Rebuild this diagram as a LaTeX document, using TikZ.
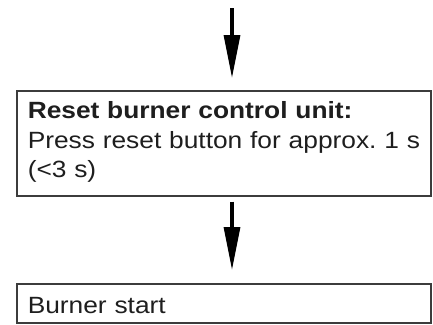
\documentclass[tikz,border=0pt]{standalone}
\usepackage{fontspec}
\setmainfont{Liberation Sans}[FakeStretch=1.12]
\usepackage{tikz}
\usetikzlibrary{arrows.meta,positioning,calc}
\definecolor{boxgray}{RGB}{60, 60, 60}
\definecolor{textgray}{RGB}{30, 30, 30}
\frenchspacing

\begin{document}
\begin{tikzpicture}[x=1pt, y=1pt,
    every node/.style={font=\fontsize{23.5}{29.5}\selectfont, text=textgray},
    stepbox/.style={draw=boxgray, line width=1.5pt, anchor=north west, inner xsep=11pt, inner ysep=0pt, text width=392pt, align=left},
    flowarrow/.style={line width=3.3pt, -{Triangle[length=43pt, width=16pt]}}]
    \useasboundingbox (0, 0) rectangle (433, -324);

    \coordinate (top) at (232, -8);
    \node[stepbox, text height=28pt, text depth=77pt] (reset) at (16, -90)
        {\mbox{\textbf{Reset burner control unit:}}\\\mbox{Press reset button for approx. 1 s}\\\mbox{(<3 s)}};
    \node[stepbox, text height=30pt, text depth=9pt] (start) at (16, -283) {Burner start};

    \draw[flowarrow, shorten >=12pt] (top) -- (top |- reset.north);
    \draw[flowarrow, shorten <=5pt, shorten >=13pt] (top |- reset.south) -- (top |- start.north);
\end{tikzpicture}
\end{document}
